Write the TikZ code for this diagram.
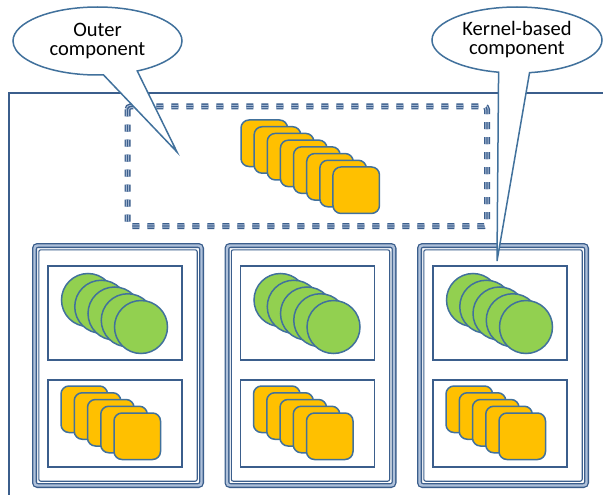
\documentclass[tikz,border=0pt]{standalone}
\usepackage{fontspec}
\setmainfont{Carlito}
\usetikzlibrary{shapes.callouts}
\definecolor{dkb}{HTML}{3B5E8C}
\definecolor{lnb}{HTML}{41719C}
\definecolor{ltb}{HTML}{AFC1DA}
\definecolor{orng}{HTML}{FFC000}
\definecolor{grn}{HTML}{92D050}
\tikzset{
  sq/.style={rectangle, draw=lnb, line width=1.5, fill=orng, rounded corners=8,
    minimum width=46.5, minimum height=46.5, anchor=north west, inner sep=0, outer sep=0},
  gc/.style={circle, draw=lnb, line width=1.5, fill=grn, minimum size=53, inner sep=0, outer sep=0},
  boxln/.style={draw=dkb, line width=1.8},
  callbox/.style={ellipse callout, draw=lnb, line width=1.5, fill=white, inner sep=0, outer sep=0,
    align=center, font=\fontsize{20.5}{19}\selectfont},
  dshbase/.style={dash pattern=on 7 off 8, rounded corners=3},
}
\begin{document}
\begin{tikzpicture}[x=1pt,y=-1pt]
\clip (0,0) rectangle (603,495);
\fill[white] (0,0) rectangle (603,495);
% outer frame
\draw[draw=dkb, line width=1.8] (9,500) -- (9,93) -- (610,93);
% dashed compound box
\draw[dshbase, draw=dkb, line width=6] (127.5,106.5) rectangle (487,226);
\draw[dshbase, draw=ltb, line width=3.4] (127.5,106.5) rectangle (487,226);
\draw[dshbase, draw=dkb, line width=1.3] (127.5,106.5) rectangle (487,226);
% top squares
\foreach \i in {0,...,7}{
  \node[sq] (t\i) at ({241+13.14*\i},{120+6.71*\i}) {};
}
% panels
\foreach \k in {0,1,2}{
  \pgfmathsetmacro{\dx}{192.5*\k}
  \draw[draw=dkb, line width=5, rounded corners=3] (34.5+\dx,245.5) rectangle (201.5+\dx,485.5);
  \draw[draw=ltb, line width=2.4, rounded corners=3] (34.5+\dx,245.5) rectangle (201.5+\dx,485.5);
  \draw[draw=dkb, line width=1.1, rounded corners=2] (38.8+\dx,249.8) rectangle (197.2+\dx,481.2);
  \draw[boxln] (48+\dx,266) rectangle (182+\dx,360);
  \draw[boxln] (48+\dx,380) rectangle (182+\dx,467);
  \foreach \i in {0,...,4}{
    \node[gc] (c\k\i) at ({88+\dx+13.25*\i},{300+6.75*\i}) {};
  }
  \foreach \i in {0,...,4}{
    \node[sq] (s\k\i) at ({61+\dx+13.25*\i},{386+6.75*\i}) {};
  }
}
% callouts
\coordinate (tipA) at (177,152);
\coordinate (tipB) at (497,261);
\node[callbox, minimum width=169, minimum height=68, callout absolute pointer={(tipA)},
  callout pointer arc=24] (outerc) at (97.5,41) {Outer\\component};
\node[callbox, minimum width=170, minimum height=66, callout absolute pointer={(tipB)},
  callout pointer arc=21] (kernc) at (517,40) {Kernel-based\\component};
\end{tikzpicture}
\end{document}
